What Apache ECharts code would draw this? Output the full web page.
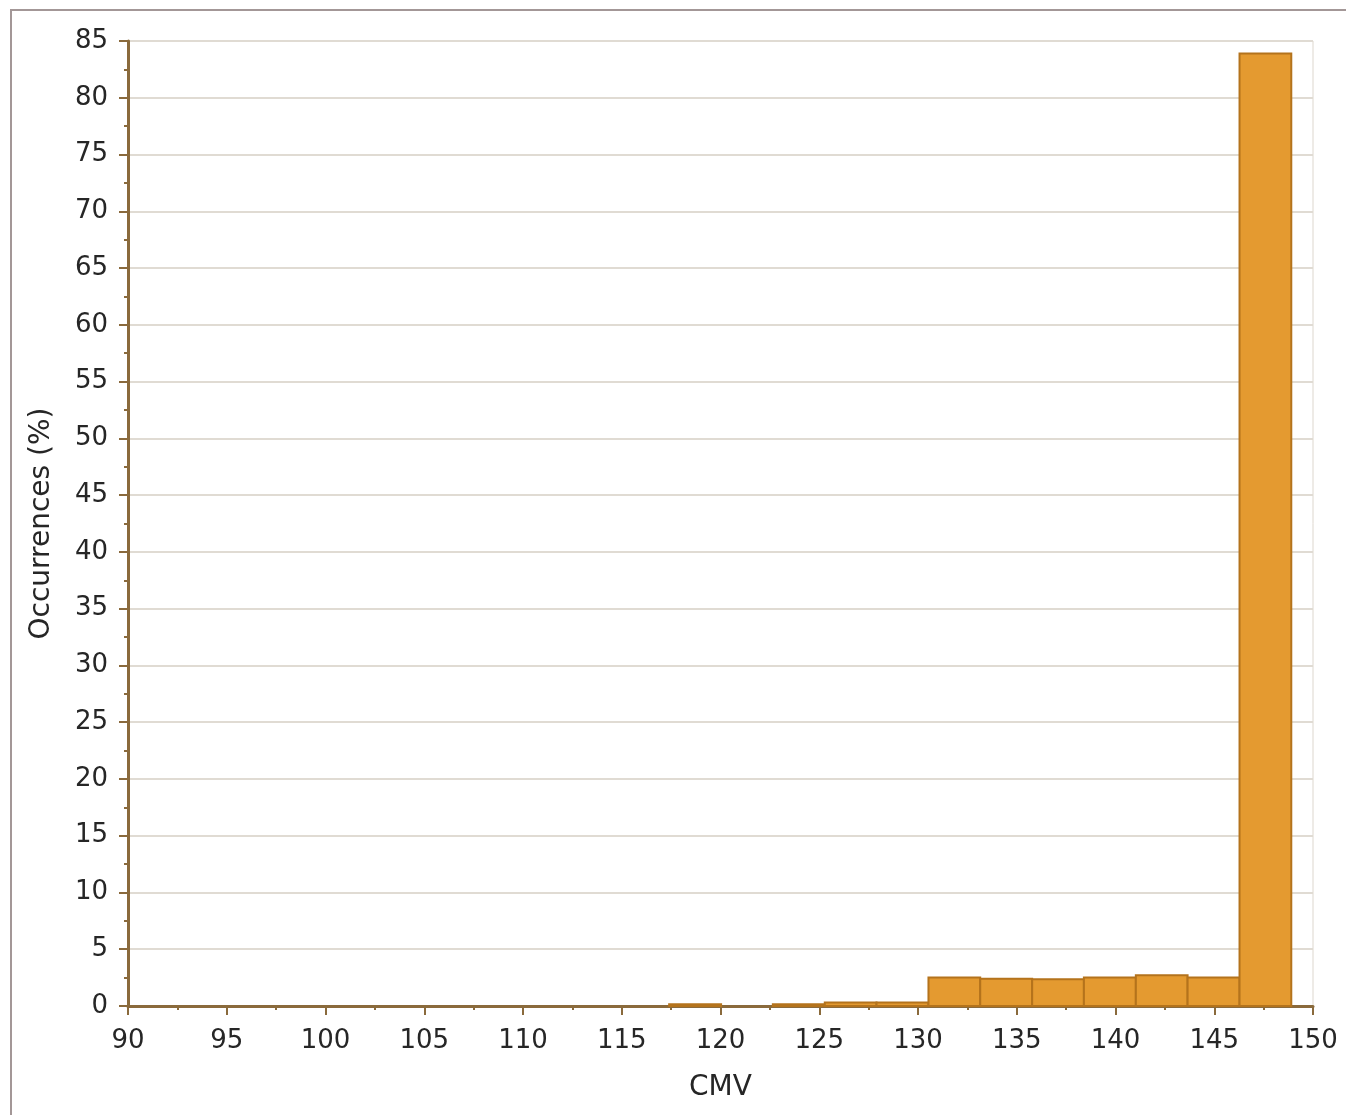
<!DOCTYPE html>
<html>
<head>
<meta charset="utf-8">
<script src="https://cdn.jsdelivr.net/npm/echarts@6/dist/echarts.min.js"></script>
<style>
  html, body { margin: 0; padding: 0; background: #fff; }
  #frame { position: absolute; left: 10px; top: 9px; width: 1400px; height: 1200px;
           border-left: 2px solid #a39797; border-top: 2px solid #a39797; }
  #chart { position: absolute; left: 0; top: 0; width: 1346px; height: 1115px; }
</style>
</head>
<body>
<div id="frame"></div>
<div id="chart"></div>
<script>
// Histogram bin edges (CMV) and occurrence percentages per bin
const binEdges = [117.4, 120.03, 122.65, 125.28, 127.9, 130.53, 133.15, 135.78, 138.4, 141.03, 143.65, 146.28, 148.9];
const occurrences = [0.15, 0, 0.15, 0.3, 0.3, 2.5, 2.4, 2.35, 2.5, 2.7, 2.5, 83.9];
const xTicks = [90, 95, 100, 105, 110, 115, 120, 125, 130, 135, 140, 145, 150];
const yTicks = [0, 5, 10, 15, 20, 25, 30, 35, 40, 45, 50, 55, 60, 65, 70, 75, 80, 85];
const xTitle = 'CMV';
const yTitle = 'Occurrences (%)';

const data = occurrences.map((v, i) => [binEdges[i], binEdges[i + 1], v]);

const FONT = '"DejaVu Sans", sans-serif';
const axisColor = '#8a6a3c';
const textColor = '#262626';

const chart = echarts.init(document.getElementById('chart'), null, { renderer: 'canvas' });
chart.setOption({
  animation: false,
  backgroundColor: 'transparent',
  grid: {
    left: 128, right: 33, top: 41, bottom: 109,
    show: true, borderColor: '#ddd7ce', borderWidth: 1
  },
  xAxis: {
    type: 'value',
    min: xTicks[0], max: xTicks[xTicks.length - 1], interval: 5,
    name: xTitle, nameLocation: 'middle', nameGap: 68,
    nameTextStyle: { fontFamily: FONT, fontSize: 28, color: textColor },
    axisLine: { show: true, onZero: false, lineStyle: { color: axisColor, width: 3 } },
    axisTick: { show: true, length: 9, lineStyle: { color: axisColor, width: 2 } },
    minorTick: { show: true, splitNumber: 2, length: 4, lineStyle: { color: axisColor, width: 2 } },
    axisLabel: { fontFamily: FONT, fontSize: 26, color: textColor, margin: 22 },
    splitLine: { show: false }
  },
  yAxis: {
    type: 'value',
    min: yTicks[0], max: yTicks[yTicks.length - 1], interval: 5,
    name: yTitle, nameLocation: 'middle', nameGap: 72, nameRotate: 90,
    nameTextStyle: { fontFamily: FONT, fontSize: 28, color: textColor },
    axisLine: { show: true, lineStyle: { color: axisColor, width: 3 } },
    axisTick: { show: true, length: 9, lineStyle: { color: axisColor, width: 2 } },
    minorTick: { show: true, splitNumber: 2, length: 4, lineStyle: { color: axisColor, width: 2 } },
    axisLabel: { fontFamily: FONT, fontSize: 26, color: textColor, margin: 20 },
    splitLine: { show: true, lineStyle: { color: '#e0dbd3', width: 2 } }
  },
  series: [{
    type: 'custom',
    data: data,
    encode: { x: [0, 1], y: 2 },
    renderItem: function (params, api) {
      const x0 = api.value(0), x1 = api.value(1), v = api.value(2);
      if (!(v > 0)) return null;
      const pTop = api.coord([x0, v]);
      const pBot = api.coord([x1, 0]);
      return {
        type: 'rect',
        shape: { x: pTop[0], y: pTop[1], width: pBot[0] - pTop[0], height: pBot[1] - pTop[1] },
        style: { fill: '#e49a30', stroke: '#b4731c', lineWidth: 2 }
      };
    }
  }]
});
</script>
</body>
</html>
